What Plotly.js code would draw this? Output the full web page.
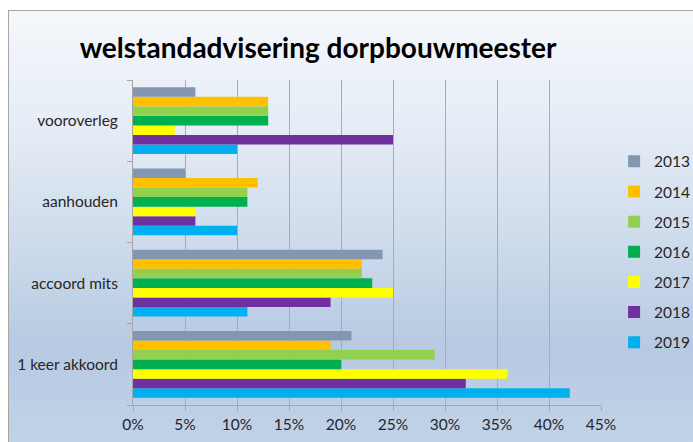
<!DOCTYPE html>
<html>
<head>
<meta charset="utf-8">
<script src="https://cdn.plot.ly/plotly-3.0.1.min.js"></script>
<style>
  html, body { margin: 0; padding: 0; background: #ffffff; }
  #wrap { position: relative; width: 693px; height: 442px; overflow: hidden; background: #ffffff; }
  #frame {
    position: absolute; left: 8px; top: 10px; width: 700px; height: 450px;
    border: 1px solid #a6a6a6; box-sizing: border-box;
    background: linear-gradient(to bottom, #f5f7fb 0%, #e6edf6 25%, #cfdcec 50%, #b7cae2 75%, #c3d4e9 100%);
  }
  #chart { position: absolute; left: 0; top: 0; width: 693px; height: 442px; }
</style>
</head>
<body>
<div id="wrap">
  <div id="frame"></div>
  <div id="chart"></div>
</div>
<script>
// Categories, bottom to top as drawn
const categories = ['1 keer akkoord', 'accoord mits', 'aanhouden', 'vooroverleg'];
const years = ['2013', '2014', '2015', '2016', '2017', '2018', '2019'];
// Percent values per year, in category order above
const v2013 = [21, 24, 5, 6];
const v2014 = [19, 22, 12, 13];
const v2015 = [29, 22, 11, 13];
const v2016 = [20, 23, 11, 13];
const v2017 = [36, 25, 6, 4];
const v2018 = [32, 19, 6, 25];
const v2019 = [42, 11, 10, 10];
const xTicks = [0, 5, 10, 15, 20, 25, 30, 35, 40, 45];

const seriesValues = [v2013, v2014, v2015, v2016, v2017, v2018, v2019];
const colors = ['#8497B0', '#FFC000', '#92D050', '#00B050', '#FFFF00', '#7030A0', '#00B0F0'];

const font = 'Lato, Calibri, Carlito, "Noto Sans", sans-serif';

// add traces in reverse so 2013 sits at the top of each group
const traces = [];
for (let i = years.length - 1; i >= 0; i--) {
  traces.push({
    type: 'bar',
    orientation: 'h',
    name: years[i],
    legendgroup: years[i],
    legendrank: i + 1,
    x: seriesValues[i],
    y: categories,
    marker: { color: colors[i], line: { width: 0 } },
    hoverinfo: 'x+y+name'
  });
}

const layout = {
  width: 693,
  height: 442,
  margin: { l: 133, r: 92, t: 80, b: 37, pad: 0, autoexpand: false },
  paper_bgcolor: 'rgba(0,0,0,0)',
  plot_bgcolor: 'rgba(0,0,0,0)',
  barmode: 'group',
  bargap: 0.18,
  bargroupgap: 0,
  font: { family: font, size: 15.5, color: '#262626' },
  title: {
    text: '<b>welstandadvisering dorpbouwmeester</b>',
    font: { family: font, size: 28, color: '#000000' },
    xref: 'container', yref: 'container',
    x: 0.459, xanchor: 'center',
    y: 0.891, yanchor: 'middle'
  },
  xaxis: {
    range: [0, 45],
    tickvals: xTicks,
    ticktext: xTicks.map(t => t + '%'),
    showgrid: true,
    gridcolor: '#ababab',
    gridwidth: 1,
    showline: true,
    linecolor: '#a6a6a6',
    linewidth: 1,
    ticks: 'outside',
    ticklen: 5,
    tickcolor: '#a6a6a6',
    zeroline: false,
    tickfont: { family: font, size: 15.5, color: '#262626' },
    fixedrange: true
  },
  yaxis: {
    type: 'category',
    categoryorder: 'array',
    categoryarray: categories,
    showgrid: false,
    showline: true,
    linecolor: '#a6a6a6',
    linewidth: 1,
    ticks: 'outside',
    tickson: 'boundaries',
    ticklen: 5,
    tickcolor: '#a6a6a6',
    ticklabelstandoff: 11,
    tickfont: { family: font, size: 15.5, color: '#262626' },
    zeroline: false,
    fixedrange: true
  },
  legend: {
    x: 1.028, xanchor: 'left',
    y: 0.47, yanchor: 'middle',
    xref: 'paper', yref: 'paper',
    traceorder: 'grouped',
    tracegroupgap: 7,
    bgcolor: 'rgba(0,0,0,0)',
    borderwidth: 0,
    itemwidth: 30,
    font: { family: font, size: 15.5, color: '#262626' }
  },
  showlegend: true
};

Plotly.newPlot('chart', traces, layout, { displayModeBar: false, staticPlot: true });
</script>
</body>
</html>
